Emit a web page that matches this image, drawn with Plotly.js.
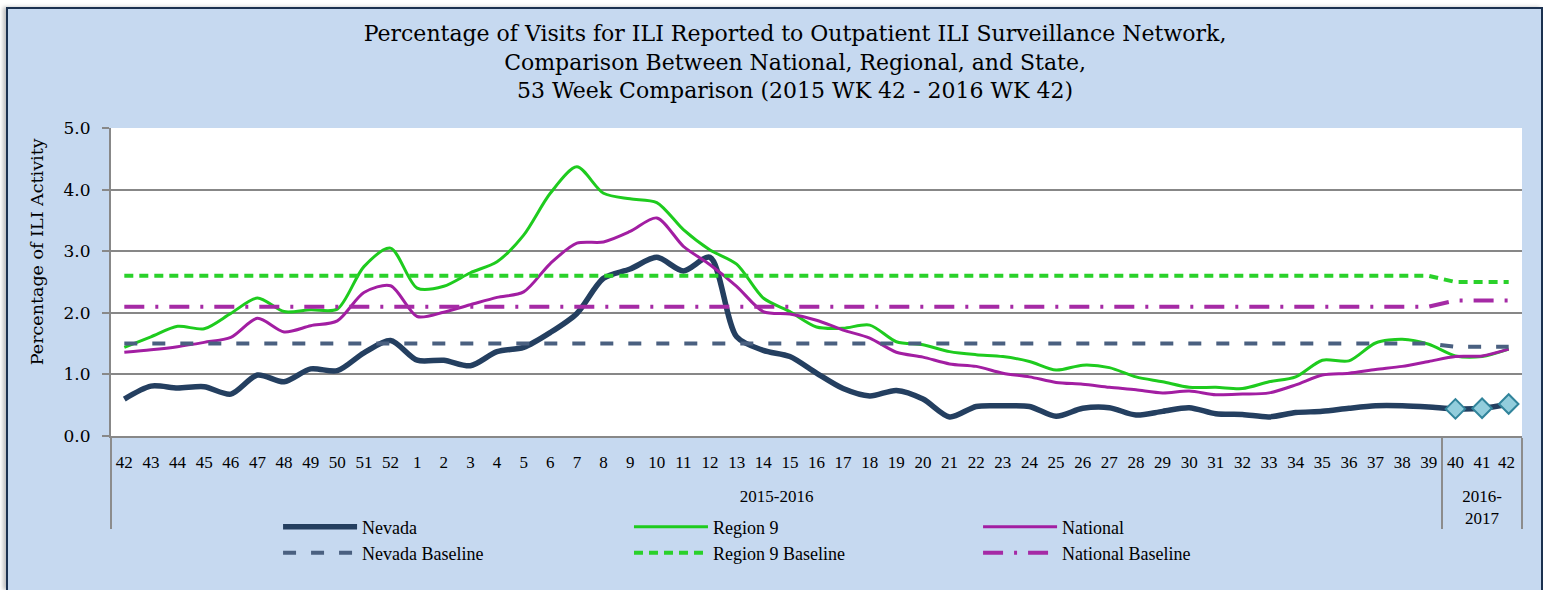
<!DOCTYPE html>
<html>
<head>
<meta charset="utf-8">
<script src="https://cdn.plot.ly/plotly-3.0.1.min.js"></script>
<style>
  html, body { margin: 0; padding: 0; background: #ffffff; overflow: hidden; }
  #chart {
    position: absolute; left: 6px; top: 7px;
    width: 1533px; height: 581px;
    border: 2px solid #1B3150; border-bottom: none;
    box-shadow: -3px 0 4px rgba(0,0,0,0.25);
  }
</style>
</head>
<body>
<div id="chart"></div>
<script>
// ---- categories (tick labels) ----
// the final week of the 2016-2017 group is written '42 ' so it stays distinct from the first '42'
const weekLabels = ['42','43','44','45','46','47','48','49','50','51','52',
  '1','2','3','4','5','6','7','8','9','10','11','12','13','14','15','16','17','18','19','20',
  '21','22','23','24','25','26','27','28','29','30','31','32','33','34','35','36','37','38','39',
  '40','41','42 '];
// season group labels (a leading line break drops them below the week numbers)
const seasonLabels = [
  '<br>2015-2016','<br>2015-2016','<br>2015-2016','<br>2015-2016','<br>2015-2016','<br>2015-2016','<br>2015-2016','<br>2015-2016','<br>2015-2016','<br>2015-2016',
  '<br>2015-2016','<br>2015-2016','<br>2015-2016','<br>2015-2016','<br>2015-2016','<br>2015-2016','<br>2015-2016','<br>2015-2016','<br>2015-2016','<br>2015-2016',
  '<br>2015-2016','<br>2015-2016','<br>2015-2016','<br>2015-2016','<br>2015-2016','<br>2015-2016','<br>2015-2016','<br>2015-2016','<br>2015-2016','<br>2015-2016',
  '<br>2015-2016','<br>2015-2016','<br>2015-2016','<br>2015-2016','<br>2015-2016','<br>2015-2016','<br>2015-2016','<br>2015-2016','<br>2015-2016','<br>2015-2016',
  '<br>2015-2016','<br>2015-2016','<br>2015-2016','<br>2015-2016','<br>2015-2016','<br>2015-2016','<br>2015-2016','<br>2015-2016','<br>2015-2016','<br>2015-2016',
  '<br>2016-<br>2017','<br>2016-<br>2017','<br>2016-<br>2017'];

// ---- series values (% of visits for ILI) ----
const nevada = [0.60,0.81,0.78,0.80,0.68,0.99,0.88,1.09,1.06,1.35,1.55,
  1.23,1.23,1.14,1.37,1.44,1.68,1.99,2.56,2.71,2.90,2.68,2.90,1.61,1.39,1.29,1.02,0.77,0.65,0.74,0.60,
  0.31,0.48,0.49,0.48,0.32,0.45,0.46,0.34,0.40,0.46,0.36,0.35,0.31,0.38,0.40,0.45,0.49,0.49,0.47,
  0.44,0.45,0.52];
const region9 = [1.44,1.61,1.78,1.74,1.99,2.24,2.02,2.05,2.06,2.75,3.05,
  2.40,2.43,2.65,2.83,3.26,3.94,4.37,3.94,3.85,3.79,3.35,3.02,2.79,2.24,2.02,1.77,1.75,1.80,1.53,1.48,
  1.37,1.32,1.29,1.21,1.07,1.15,1.11,0.96,0.88,0.79,0.79,0.77,0.88,0.96,1.23,1.22,1.51,1.57,1.49,
  1.30,1.29,1.41];
const national = [1.36,1.40,1.45,1.52,1.60,1.91,1.69,1.79,1.87,2.33,2.44,
  1.94,2.01,2.13,2.25,2.34,2.80,3.13,3.15,3.32,3.54,3.08,2.78,2.43,2.02,1.98,1.88,1.72,1.59,1.36,1.28,
  1.17,1.13,1.02,0.96,0.87,0.84,0.79,0.75,0.70,0.73,0.67,0.68,0.70,0.83,0.99,1.02,1.08,1.13,1.21,
  1.29,1.30,1.41];
const nevadaBaseline = [1.5,1.5,1.5,1.5,1.5,1.5,1.5,1.5,1.5,1.5,1.5,
  1.5,1.5,1.5,1.5,1.5,1.5,1.5,1.5,1.5,1.5,1.5,1.5,1.5,1.5,1.5,1.5,1.5,1.5,1.5,1.5,
  1.5,1.5,1.5,1.5,1.5,1.5,1.5,1.5,1.5,1.5,1.5,1.5,1.5,1.5,1.5,1.5,1.5,1.5,1.5,
  1.45,1.45,1.45];
const region9Baseline = [2.6,2.6,2.6,2.6,2.6,2.6,2.6,2.6,2.6,2.6,2.6,
  2.6,2.6,2.6,2.6,2.6,2.6,2.6,2.6,2.6,2.6,2.6,2.6,2.6,2.6,2.6,2.6,2.6,2.6,2.6,2.6,
  2.6,2.6,2.6,2.6,2.6,2.6,2.6,2.6,2.6,2.6,2.6,2.6,2.6,2.6,2.6,2.6,2.6,2.6,2.6,
  2.5,2.5,2.5];
const nationalBaseline = [2.1,2.1,2.1,2.1,2.1,2.1,2.1,2.1,2.1,2.1,2.1,
  2.1,2.1,2.1,2.1,2.1,2.1,2.1,2.1,2.1,2.1,2.1,2.1,2.1,2.1,2.1,2.1,2.1,2.1,2.1,2.1,
  2.1,2.1,2.1,2.1,2.1,2.1,2.1,2.1,2.1,2.1,2.1,2.1,2.1,2.1,2.1,2.1,2.1,2.1,2.1,
  2.2,2.2,2.2];
const yTickValues = [0, 1, 2, 3, 4, 5];

const X = [seasonLabels, weekLabels];
const serif = 'Liberation Serif, Times New Roman, serif';
const wideSerif = 'DejaVu Serif, Liberation Serif, serif';

const traces = [
  {x: X, y: nevada, name: 'Nevada', type: 'scatter', mode: 'lines',
   line: {color: '#243F60', width: 5.5, shape: 'spline', smoothing: 0.8}, legend: 'legend'},
  {x: X, y: region9, name: 'Region 9', type: 'scatter', mode: 'lines',
   line: {color: '#1ECB1E', width: 3, shape: 'spline', smoothing: 0.8}, legend: 'legend2'},
  {x: X, y: national, name: 'National', type: 'scatter', mode: 'lines',
   line: {color: '#A21EA2', width: 3, shape: 'spline', smoothing: 0.8}, legend: 'legend3'},
  {x: X, y: nevadaBaseline, name: 'Nevada Baseline', type: 'scatter', mode: 'lines',
   line: {color: '#4A6080', width: 4, dash: '13px,15px'}, legend: 'legend4'},
  {x: X, y: region9Baseline, name: 'Region 9 Baseline', type: 'scatter', mode: 'lines',
   line: {color: '#2AD12A', width: 4, dash: '9px,6px'}, legend: 'legend5'},
  {x: X, y: nationalBaseline, name: 'National Baseline', type: 'scatter', mode: 'lines',
   line: {color: '#A52AA5', width: 4, dash: '20px,11px,3px,11px'}, legend: 'legend6'},
  {x: [seasonLabels.slice(50), weekLabels.slice(50)], y: nevada.slice(50), name: 'Nevada (2016-2017)',
   type: 'scatter', mode: 'markers', showlegend: false,
   marker: {symbol: 'diamond', size: 15, color: '#92CDDC', line: {color: '#31849B', width: 2}}}
];

function legendAt(x, y) {
  return {
    orientation: 'v', x: x, xanchor: 'left', y: y, yanchor: 'middle',
    itemwidth: 74, bgcolor: 'rgba(0,0,0,0)', borderwidth: 0,
    font: {family: serif, size: 18, color: '#000'}
  };
}

const layout = {
  width: 1533, height: 581,
  margin: {l: 103, r: 19, t: 119, b: 154},
  paper_bgcolor: '#C6D9F0', plot_bgcolor: '#FFFFFF',
  font: {family: serif, color: '#000'},
  title: {
    text: 'Percentage of Visits for ILI Reported to Outpatient ILI Surveillance Network,<br>' +
          'Comparison Between National, Regional, and State,<br>' +
          '53 Week Comparison (2015 WK 42 - 2016 WK 42)',
    font: {family: wideSerif, size: 22, color: '#000'},
    x: 0.5134, xanchor: 'center', y: 0.945, yanchor: 'top'
  },
  xaxis: {
    type: 'multicategory', range: [-0.5, 52.5],
    showline: true, linecolor: '#888888', linewidth: 2,
    showgrid: false, ticks: 'outside', ticklen: 20, tickcolor: 'rgba(0,0,0,0)', tickangle: 0,
    ticklabelstandoff: 10,
    showdividers: true, dividercolor: '#8C8C8C', dividerwidth: 2,
    tickfont: {family: serif, size: 17, color: '#000'}
  },
  yaxis: {
    range: [0, 5], tickvals: yTickValues, tickformat: '.1f',
    showgrid: true, gridcolor: '#878787', gridwidth: 2, zeroline: false,
    showline: true, linecolor: '#888888', linewidth: 2,
    ticks: 'outside', ticklen: 7, tickcolor: '#888888', tickwidth: 2,
    tickfont: {family: wideSerif, size: 17, color: '#000'},
    ticklabelstandoff: 8
  },
  annotations: [{
    text: 'Percentage of ILI Activity', textangle: -90, showarrow: false,
    xref: 'paper', yref: 'paper', x: -0.0524, y: 0.597, xanchor: 'center', yanchor: 'middle',
    font: {family: wideSerif, size: 17.5, color: '#000'}
  }],
  legend: legendAt(0.1184, -0.2955),
  legend2: legendAt(0.3671, -0.2955),
  legend3: legendAt(0.6145, -0.2955),
  legend4: legendAt(0.1184, -0.380),
  legend5: legendAt(0.3671, -0.380),
  legend6: legendAt(0.6145, -0.380),
  showlegend: true
};

Plotly.newPlot('chart', traces, layout, {displayModeBar: false, responsive: false});
</script>
</body>
</html>
